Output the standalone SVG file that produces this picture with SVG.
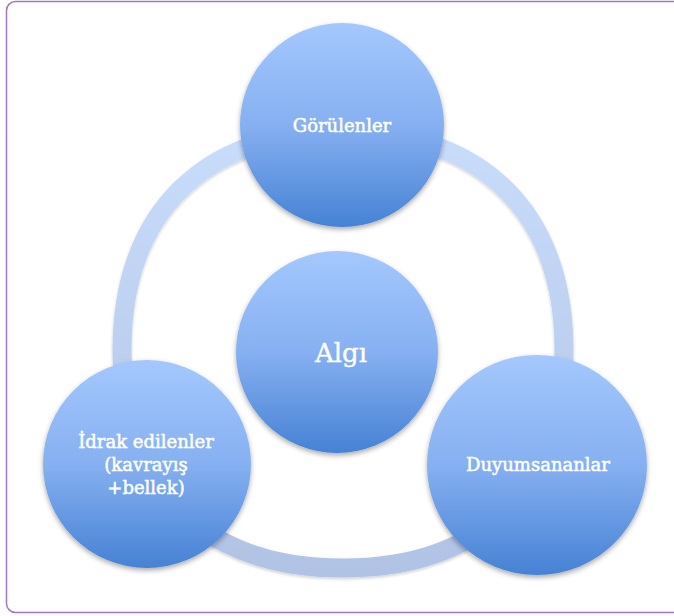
<svg xmlns="http://www.w3.org/2000/svg" width="674" height="616" viewBox="0 0 674 616">
  <defs>
    <linearGradient id="ballGrad" x1="0" y1="0" x2="0" y2="1">
      <stop offset="0" stop-color="#a4c8fd"/>
      <stop offset="0.5" stop-color="#86b0f1"/>
      <stop offset="1" stop-color="#4682d4"/>
    </linearGradient>
    <linearGradient id="ringGrad" gradientUnits="userSpaceOnUse" x1="0" y1="130" x2="0" y2="575">
      <stop offset="0" stop-color="#c8dcfb"/>
      <stop offset="1" stop-color="#b1c3e4"/>
    </linearGradient>
    <filter id="shadow" x="-20%" y="-20%" width="140%" height="140%">
      <feDropShadow dx="0" dy="2.5" stdDeviation="2.5" flood-color="#000" flood-opacity="0.33"/>
    </filter>
    <filter id="ringShadow" x="-10%" y="-10%" width="120%" height="120%">
      <feDropShadow dx="0" dy="1.5" stdDeviation="1.5" flood-color="#000" flood-opacity="0.2"/>
    </filter>
  </defs>
  <style>
    .ball { fill: url(#ballGrad); filter: url(#shadow); }
    .label { fill: #ffffff; stroke: #ffffff; stroke-width: 0.5; font-family: "DejaVu Serif", "Liberation Serif", serif; font-size: 18px; text-anchor: middle; }
    .big { font-size: 26px; stroke-width: 0.4; }
    .ring { fill: none; stroke: url(#ringGrad); stroke-width: 19; filter: url(#ringShadow); }
  </style>

  <rect x="6.5" y="1.5" width="700" height="611" rx="9" ry="9" fill="#ffffff" stroke="#9f78c2" stroke-width="1.5"/>

  <g id="connectors">
    <path class="ring" d="M564,350 C564,487.3 482.2,568 343,568 C203.8,568 122,487.3 122,350 C122,212.7 203.8,132 343,132 C482.2,132 564,212.7 564,350 Z"/>
  </g>

  <g id="node-gorulenler">
    <circle class="ball" cx="342" cy="125" r="102"/>
    <text class="label" x="342" y="132">Görülenler</text>
  </g>

  <g id="node-algi">
    <circle class="ball" cx="337" cy="352" r="101"/>
    <text class="label big" x="341" y="362">Algı</text>
  </g>

  <g id="node-idrak">
    <circle class="ball" cx="147" cy="464" r="104"/>
    <text class="label" x="146" y="448">İdrak edilenler</text>
    <text class="label" x="146" y="471">(kavrayış</text>
    <text class="label" x="146" y="494">+bellek)</text>
  </g>

  <g id="node-duyum">
    <circle class="ball" cx="537" cy="465" r="110"/>
    <text class="label" x="538" y="471">Duyumsananlar</text>
  </g>
</svg>
